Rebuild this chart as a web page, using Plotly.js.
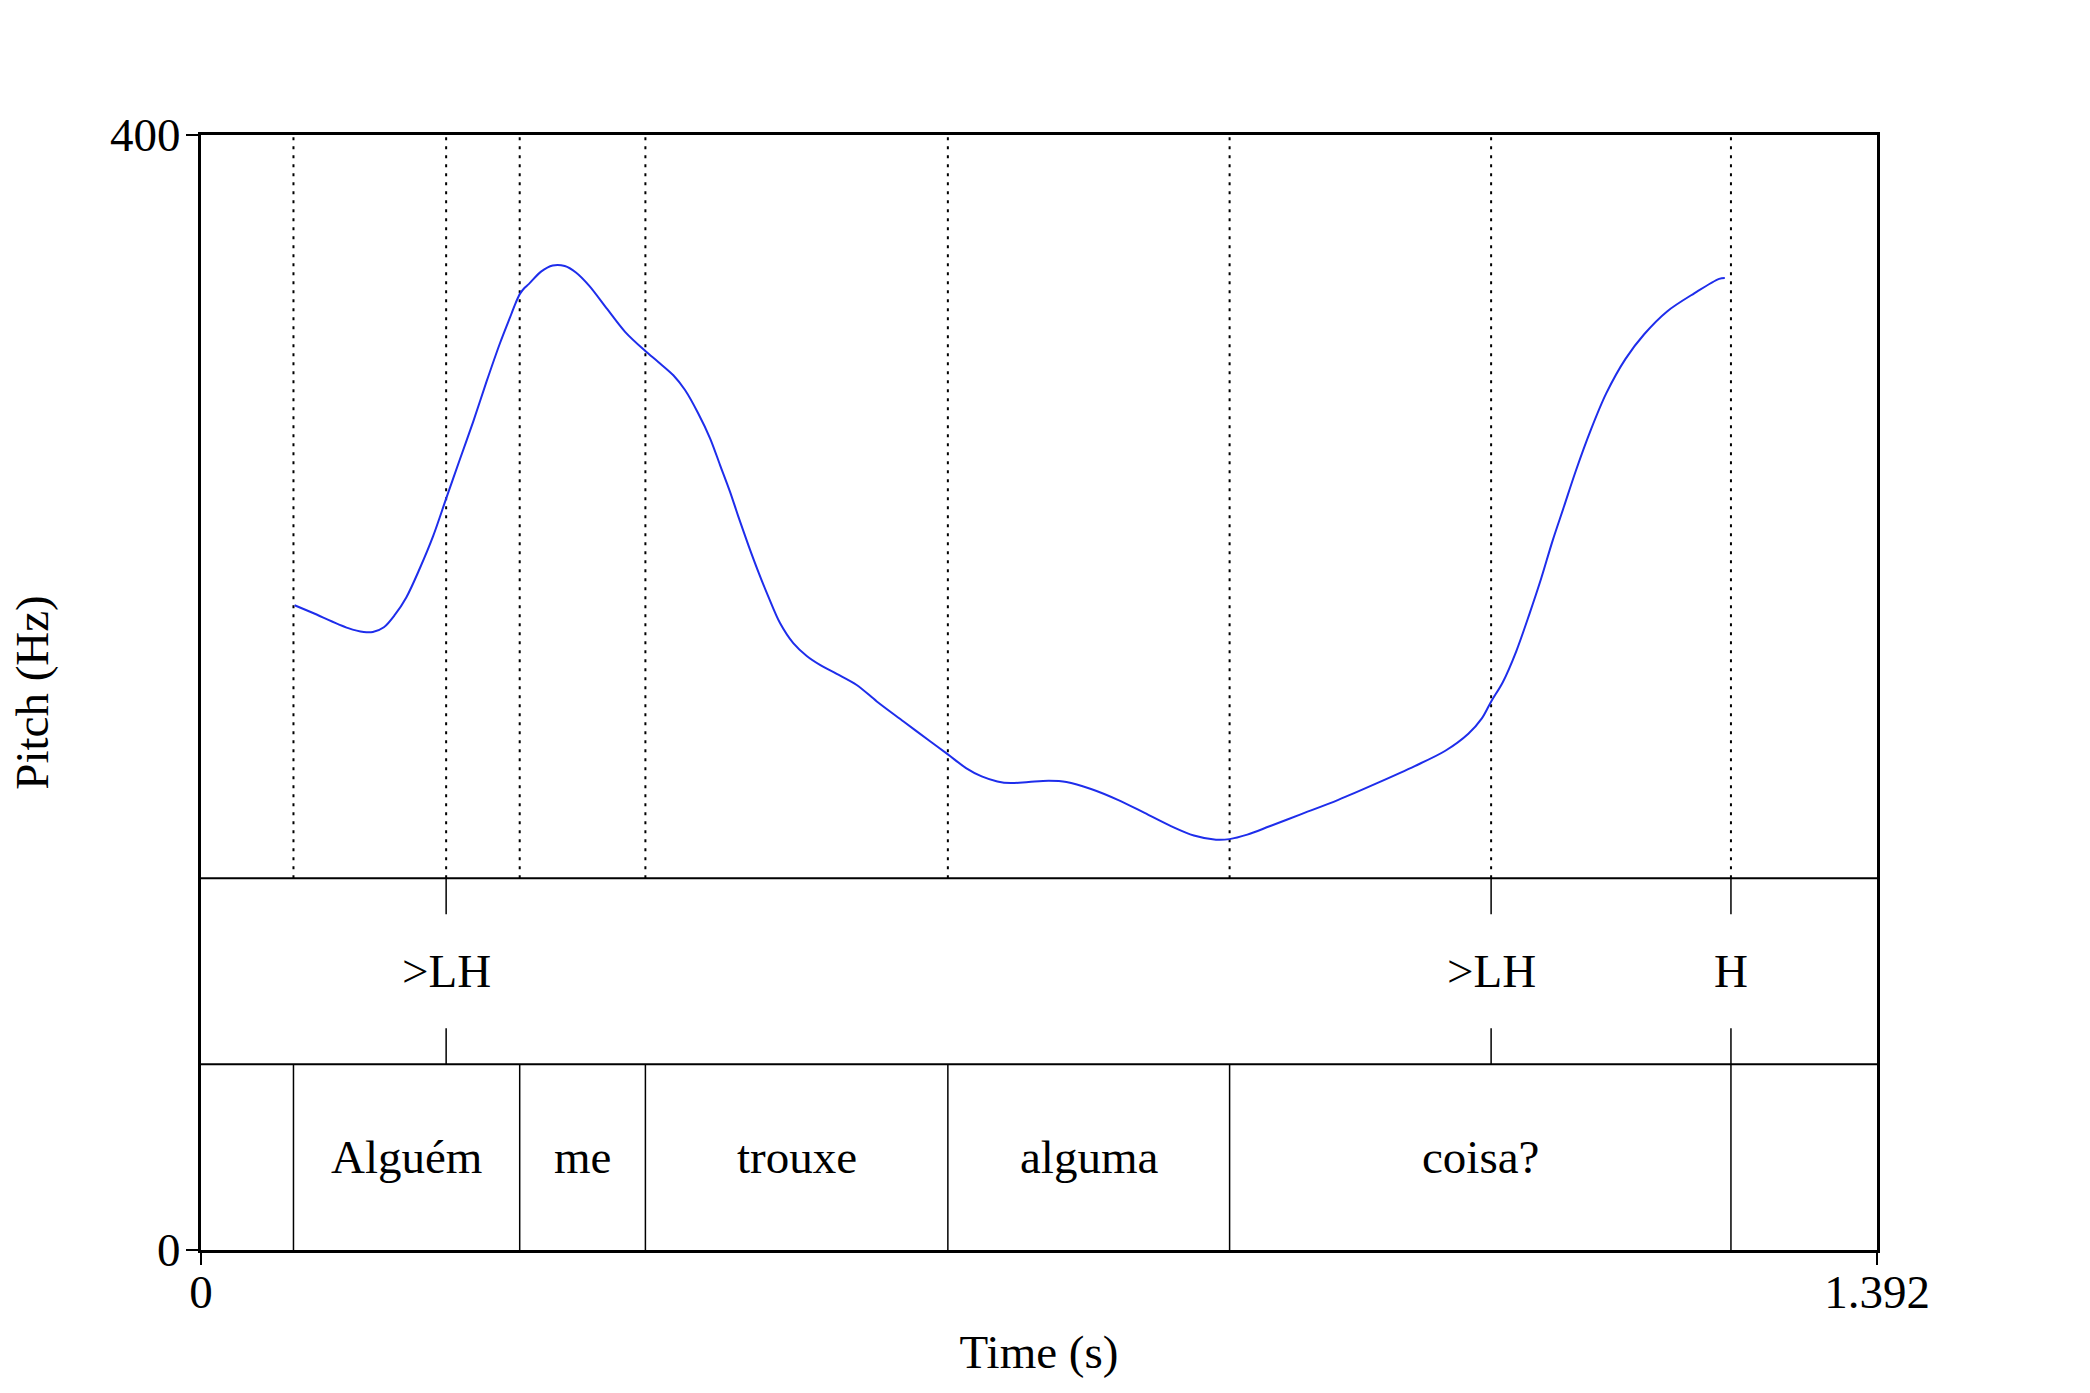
<!DOCTYPE html>
<html>
<head>
<meta charset="utf-8">
<script src="https://cdn.plot.ly/plotly-3.0.1.min.js"></script>
<style>
  html, body { margin: 0; padding: 0; background: #ffffff; }
  #chart { width: 2090px; height: 1393px; }
</style>
</head>
<body>
<div id="chart"></div>
<script>
// ---- Data ----
const timeMax = 1.392;
const yMax = 400;

// Pitch contour (time in s, value on the 0–400 axis)
const pitchTime = [0.0777, 0.0926, 0.1223, 0.1352, 0.1427, 0.1519, 0.1611, 0.1705, 0.1816, 0.1927,
  0.2038, 0.2149, 0.2261, 0.2372, 0.2483, 0.2576, 0.2613, 0.2650, 0.2688, 0.2724, 0.2824, 0.2921,
  0.3021, 0.3114, 0.3225, 0.3373, 0.3522, 0.3688, 0.3800, 0.3923, 0.4020, 0.4130,
  0.4228, 0.4311, 0.4394, 0.4463, 0.4546, 0.4629, 0.4712, 0.4809, 0.4919, 0.5031,
  0.5141, 0.5280, 0.5446, 0.5613, 0.5835, 0.6058, 0.6206, 0.6354, 0.6484, 0.6614,
  0.6725, 0.6874, 0.7041, 0.7188, 0.7392, 0.7615, 0.7837, 0.8060, 0.8246, 0.8430,
  0.8542, 0.8690, 0.8875, 0.9128, 0.9446, 0.9763, 1.0081, 1.0335, 1.0526, 1.0638,
  1.0717, 1.0812, 1.0923, 1.1035, 1.1130, 1.1226, 1.1321, 1.1416, 1.1544, 1.1671,
  1.1830, 1.1988, 1.2179, 1.2402, 1.2609, 1.2656];
const pitchHz = [231.3, 228.6, 223.1, 221.7, 221.7, 223.4, 227.9, 234.1, 244.4, 256.0,
  269.8, 283.5, 297.2, 311.6, 325.3, 335.6, 339.7, 343.1, 345.2, 346.6, 351.0, 353.2,
  353.0, 350.7, 345.9, 337.6, 329.4, 322.6, 318.5, 313.8, 308.5, 300.1,
  291.2, 281.6, 272.0, 263.1, 252.9, 243.3, 234.4, 224.9, 217.7, 213.1,
  209.9, 206.7, 202.7, 196.8, 189.6, 182.4, 177.7, 172.9, 169.9, 168.1,
  167.5, 167.9, 168.3, 167.9, 165.4, 161.5, 156.8, 152.0, 148.7, 147.2,
  147.4, 149.0, 152.0, 156.2, 161.5, 167.4, 173.6, 179.1, 185.2, 190.7,
  196.9, 203.7, 214.7, 228.4, 240.8, 254.5, 266.8, 279.2, 294.3, 307.3,
  319.6, 328.6, 336.8, 343.2, 348.4, 348.7];

// Word tier (interval tier)
const wordLabels = ["", "Alguém", "me", "trouxe", "alguma", "coisa?", ""];
const wordBounds = [0, 0.0768, 0.2647, 0.3691, 0.6203, 0.8543, 1.2707, 1.392];

// Tone tier (point tier)
const toneLabels = [">LH", ">LH", "H"];
const toneTimes = [0.2036, 1.0715, 1.2707];

// Axis tick labels
const xTickVals = [0, 1.392];
const xTickText = ["0", "1.392"];
const yTickVals = [0, 400];
const yTickText = ["0", "400"];

// ---- Layout helpers ----
const FONT = "Liberation Serif, Times New Roman, serif";
const FS = 47;
const pitchBottom = yMax / 3;       // pitch panel occupies the top 2/3
const tierLine = yMax / 6;          // boundary between tone tier and word tier
const tierCenterTone = (pitchBottom + tierLine) / 2;
const tierCenterWord = tierLine / 2;
const pointTick = 12.9;

const shapes = [];
const annotations = [];

// dotted verticals in the pitch panel at every boundary / point
const dotted = Array.from(new Set(wordBounds.slice(1, -1).concat(toneTimes))).sort((a, b) => a - b);
dotted.forEach(t => {
  shapes.push({type: 'line', xref: 'x', yref: 'y', x0: t, x1: t, y0: pitchBottom, y1: yMax,
    layer: 'below', line: {color: '#000000', width: 2, dash: '3px,6px'}});
});

// tier separator lines
[pitchBottom, tierLine].forEach(v => {
  shapes.push({type: 'line', xref: 'x', yref: 'y', x0: 0, x1: timeMax, y0: v, y1: v,
    line: {color: '#000000', width: 2}});
});

// point tier ticks and labels
toneTimes.forEach((t, i) => {
  shapes.push({type: 'line', xref: 'x', yref: 'y', x0: t, x1: t, y0: pitchBottom - pointTick, y1: pitchBottom,
    line: {color: '#000000', width: 1.5}});
  shapes.push({type: 'line', xref: 'x', yref: 'y', x0: t, x1: t, y0: tierLine, y1: tierLine + pointTick,
    line: {color: '#000000', width: 1.5}});
  annotations.push({x: t, y: tierCenterTone, xref: 'x', yref: 'y', text: toneLabels[i], showarrow: false,
    xanchor: 'center', yanchor: 'middle', font: {family: FONT, size: FS, color: '#000000'}});
});

// word tier boundaries and labels
wordBounds.slice(1, -1).forEach(t => {
  shapes.push({type: 'line', xref: 'x', yref: 'y', x0: t, x1: t, y0: 0, y1: tierLine,
    line: {color: '#000000', width: 1.5}});
});
wordLabels.forEach((w, i) => {
  if (!w) return;
  annotations.push({x: (wordBounds[i] + wordBounds[i + 1]) / 2, y: tierCenterWord, xref: 'x', yref: 'y',
    text: w, showarrow: false, xanchor: 'center', yanchor: 'middle',
    font: {family: FONT, size: FS, color: '#000000'}});
});

const trace = {
  x: pitchTime, y: pitchHz, type: 'scatter', mode: 'lines',
  line: {color: 'rgb(30,45,235)', width: 2, shape: 'spline', smoothing: 0.9},
  hoverinfo: 'x+y'
};

const layout = {
  width: 2090, height: 1393,
  margin: {l: 201, r: 213, t: 135, b: 143, pad: 0},
  paper_bgcolor: '#ffffff', plot_bgcolor: '#ffffff',
  showlegend: false,
  font: {family: FONT, size: FS, color: '#000000'},
  xaxis: {
    range: [0, timeMax], tickvals: xTickVals, ticktext: xTickText,
    ticks: 'outside', ticklen: 12, tickwidth: 2, tickcolor: '#000000',
    ticklabelstandoff: -13,
    showline: true, linewidth: 3, linecolor: '#000000', mirror: true,
    showgrid: false, zeroline: false, fixedrange: true,
    tickfont: {family: FONT, size: FS, color: '#000000'},
    title: {text: 'Time (s)', font: {family: FONT, size: FS, color: '#000000'}, standoff: 18}
  },
  yaxis: {
    range: [0, yMax], tickvals: yTickVals, ticktext: yTickText,
    ticks: 'outside', ticklen: 12, tickwidth: 2, tickcolor: '#000000',
    ticklabelstandoff: -4,
    showline: true, linewidth: 3, linecolor: '#000000', mirror: true,
    showgrid: false, zeroline: false, fixedrange: true,
    tickfont: {family: FONT, size: FS, color: '#000000'},
    title: {text: 'Pitch (Hz)', font: {family: FONT, size: FS, color: '#000000'}, standoff: 47}
  },
  shapes: shapes,
  annotations: annotations
};

Plotly.newPlot('chart', [trace], layout, {staticPlot: true, displayModeBar: false});
</script>
</body>
</html>
